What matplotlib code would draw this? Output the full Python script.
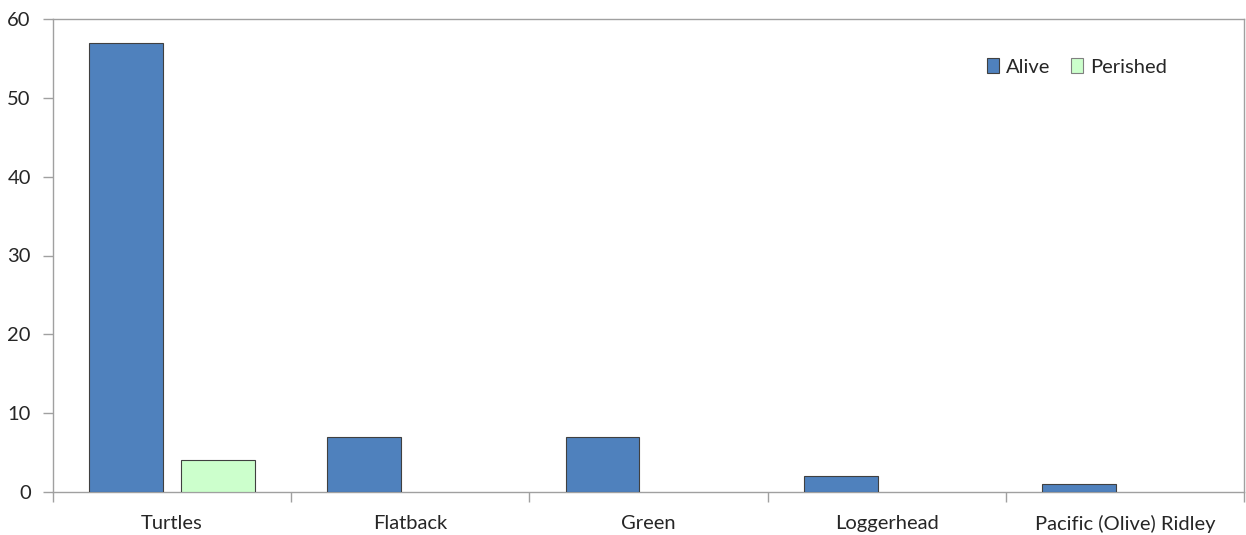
import matplotlib
matplotlib.use("Agg")
import matplotlib.pyplot as plt
from matplotlib.patches import Patch
import numpy as np

categories = ["Turtles", "Flatback", "Green", "Loggerhead", "Pacific (Olive) Ridley"]
alive = [57, 7, 7, 2, 1]
perished = [4, 0, 0, 0, 0]
series_names = ["Alive", "Perished"]
yticks = [0, 10, 20, 30, 40, 50, 60]

plt.rcParams["font.family"] = ["Lato", "DejaVu Sans"]
text_color = "#262626"
axis_color = "#a0a0a0"
alive_color = "#4f81bd"
perished_color = "#ccffcc"
edge_color = "#404040"
font_size = 14.5

fig = plt.figure(figsize=(12.46, 5.35), dpi=100)
ax = fig.add_axes([53 / 1246, 1 - 492 / 535, (1244 - 53) / 1246, (492 - 19) / 535])

x = np.arange(len(categories))
width = 0.31


def edges(values):
    # empty bars get no outline so they leave no mark on the baseline
    return [edge_color if v else "none" for v in values]


ax.bar(x - 0.193, alive, width, color=alive_color, edgecolor=edges(alive), linewidth=0.8, zorder=3)
ax.bar(x + 0.193, perished, width, color=perished_color, edgecolor=edges(perished), linewidth=0.8, zorder=3)

ax.set_xlim(-0.5, len(categories) - 0.5)
ax.set_ylim(0, 60)

# category boundaries carry the tick marks; labels sit on minor ticks at centers
ax.set_xticks(np.arange(-0.5, len(categories), 1.0))
ax.set_xticklabels([])
ax.set_xticks(x, minor=True)
ax.set_xticklabels(categories, minor=True)
ax.tick_params(axis="x", which="major", length=7, color=axis_color, width=1)
ax.tick_params(axis="x", which="minor", length=0, pad=16.5, labelsize=font_size, labelcolor=text_color)

ax.set_yticks(yticks)
ax.tick_params(axis="y", length=7, color=axis_color, width=1, pad=9, labelsize=font_size, labelcolor=text_color)

for side in ["left", "bottom", "top", "right"]:
    ax.spines[side].set_color(axis_color)
    ax.spines[side].set_linewidth(1)

handles = [Patch(facecolor=alive_color, edgecolor=edge_color, linewidth=0.8),
           Patch(facecolor=perished_color, edgecolor="#808080", linewidth=0.8)]
leg = fig.legend(handles, series_names, loc="center left",
                 bbox_to_anchor=(987 / 1246, 1 - 67 / 535), ncol=2, frameon=False,
                 fontsize=font_size, handlelength=0.6, handleheight=0.7, handletextpad=0.35,
                 columnspacing=1.0, borderpad=0, borderaxespad=0)
for t in leg.get_texts():
    t.set_color(text_color)

fig.savefig("out.png", dpi=100)
